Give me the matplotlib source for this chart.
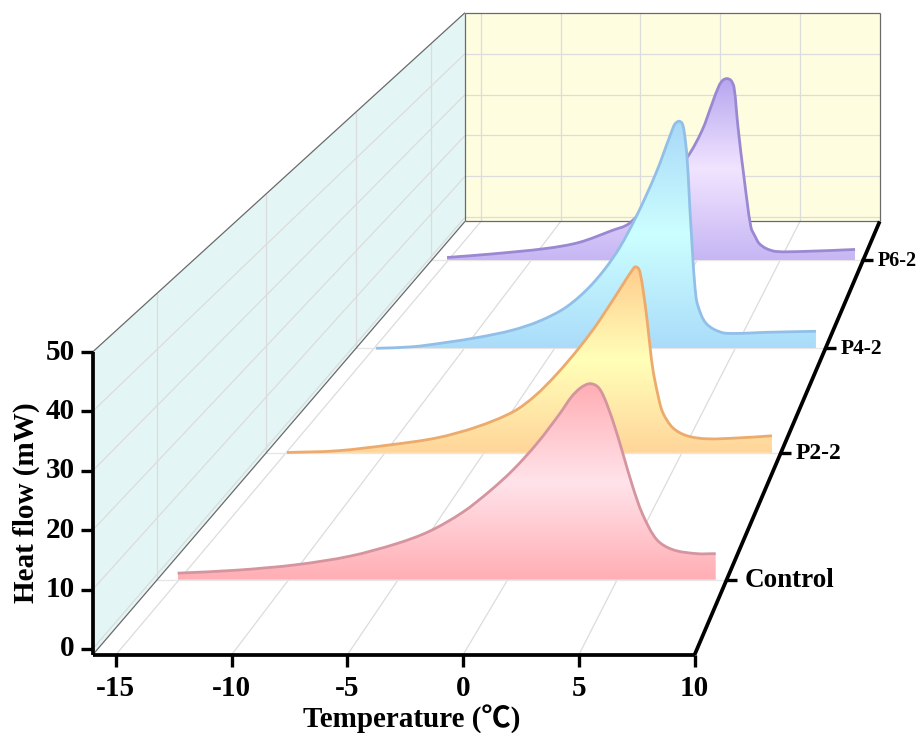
import numpy as np
import matplotlib
matplotlib.use("Agg")
import matplotlib.pyplot as plt
from matplotlib.path import Path
from matplotlib.patches import PathPatch, Polygon
from matplotlib.colors import LinearSegmentedColormap

# ---- data -----------------------------------------------------------
series_names = ["Control", "P2-2", "P4-2", "P6-2"]
series_depth = [0.946, 0.855, 0.780, 0.717]

control_t = [-15.07, -12.37, -9.63, -7.21, -5.07, -3.56, -2.05, -0.82, 0.23, 1.33, 2.38, 2.92, 3.34, 3.75, 4.11, 4.39, 4.8, 5.25, 5.71, 6.17, 6.81, 7.54, 8.63, 9.5]
control_h = [0.16, 0.69, 1.67, 3.18, 5.41, 7.63, 11.01, 14.75, 18.48, 23.2, 28.54, 31.56, 33.16, 33.88, 33.34, 31.56, 27.3, 21.6, 15.55, 10.57, 6.12, 4.34, 3.63, 3.63]

p22_t = [-14.95, -12.42, -9.74, -7.37, -5.35, -3.53, -2.42, -1.31, -0.15, 0.86, 2.23, 2.43, 2.63, 2.78, 2.88, 3.04, 3.24, 3.39, 3.54, 3.79, 4.04, 4.55, 5.26, 6.27, 7.93, 9.55]
p22_h = [-0.94, -0.6, 0.57, 1.95, 4.12, 7.07, 10.22, 14.55, 19.87, 25.18, 33.45, 34.6, 35.6, 35.4, 34.6, 31.1, 25.2, 19.9, 15.3, 10.4, 6.9, 3.9, 2.35, 1.76, 1.95, 2.35]

p42_t = [-14.89, -12.9, -11.13, -9.19, -7.36, -5.87, -4.37, -2.93, -1.6, -0.5, 0.61, 1.44, 1.66, 1.88, 2.05, 2.16, 2.33, 2.55, 2.83, 3.1, 3.38, 3.82, 4.49, 6.87, 9.47]
p42_h = [-1.0, -0.68, 0.19, 1.38, 2.89, 4.83, 7.86, 12.82, 19.5, 27.3, 36.8, 45.4, 47.4, 48.0, 47.6, 46.1, 40.25, 25.1, 10.0, 6.34, 4.4, 3.1, 2.24, 2.46, 2.67]

p62_t = [-15.06, -12.35, -9.09, -7.11, -5.12, -4.09, -2.29, -0.6, 0.3, 0.91, 1.33, 1.57, 1.81, 2.05, 2.23, 2.47, 2.83, 3.25, 3.5, 3.74, 4.16, 4.76, 6.33, 9.52]
p62_h = [-0.3, 0.53, 1.82, 3.23, 6.04, 7.69, 15.2, 23.18, 29.5, 35.85, 40.08, 41.37, 41.7, 41.25, 39.6, 30.2, 18.5, 6.75, 4.63, 3.0, 1.82, 1.11, 1.11, 1.58]

series_t = [control_t, p22_t, p42_t, p62_t]
series_h = [control_h, p22_h, p42_h, p62_h]

t_ticks = [-15, -10, -5, 0, 5, 10]
h_ticks = [0, 10, 20, 30, 40, 50]

# ---- styles ---------------------------------------------------------
line_colors = ["#d4959e", "#ecab6c", "#92bfe8", "#9b88d2"]
grad_colors = [["#ffaeb4", "#ffe3ea", "#ffaeb4"],
               ["#ffcd8e", "#ffffb8", "#ffd59a"],
               ["#a8d8f8", "#ccffff", "#aadcfa"],
               ["#b6a6f0", "#f1e4ff", "#c6b6f4"]]
label_sizes = [19.5, 17, 15.5, 14.5]
label_gaps = [18, 15, 15, 15]
SERIF = ["Liberation Serif", "Noto Sans CJK SC", "DejaVu Sans"]
WALL_L, WALL_B = "#e3f6f5", "#fffde0"
GRID, EDGE = "#dcdcdc", "#6a6a6a"

# ---- one-point perspective scale -------------------------------------
T_MIN, T_MAX, H_FLOOR, H_TOP = -16.0, 10.0, -1.0, 50.0
S_FRONT, S_BACK = 1.0, 0.689
VP = (1290.0, -739.0)


def project(t, depth, h):
    x0 = 463.0 + 23.15 * np.asarray(t, float)
    y0 = 649.0 - 5.94 * np.asarray(h, float)
    return VP[0] + (x0 - VP[0]) * depth, VP[1] + (y0 - VP[1]) * depth


def smooth_segments(pts):
    """Bezier control points for a smooth path through the read points."""
    pts = np.asarray(pts)
    seg = np.hypot(*np.diff(pts, axis=0).T)
    tan = np.zeros_like(pts)
    tan[1:-1] = (pts[2:] - pts[:-2]) / (seg[1:] + seg[:-1])[:, None]
    tan[0] = (pts[1] - pts[0]) / seg[0]
    tan[-1] = (pts[-1] - pts[-2]) / seg[-1]
    verts, codes = [pts[0]], [Path.MOVETO]
    for i in range(len(pts) - 1):
        verts += [pts[i] + tan[i] * seg[i] / 3, pts[i + 1] - tan[i + 1] * seg[i] / 3, pts[i + 1]]
        codes += [Path.CURVE4] * 3
    return verts, codes


fig = plt.figure(figsize=(9.17, 7.33), dpi=100, facecolor="white")
ax = fig.add_axes([0, 0, 1, 1])


def quad(t0, d0, h0, t1, d1, h1, **kw):
    x, y = project([t0, t1], [d0, d1], [h0, h1])
    ax.plot(x, y, solid_capstyle="butt", **kw)


# walls
corners_l = [project(T_MIN, S_FRONT, H_FLOOR), project(T_MIN, S_BACK, H_FLOOR),
             project(T_MIN, S_BACK, H_TOP), project(T_MIN, S_FRONT, H_TOP)]
corners_b = [project(T_MIN, S_BACK, H_FLOOR), project(T_MAX, S_BACK, H_FLOOR),
             project(T_MAX, S_BACK, H_TOP), project(T_MIN, S_BACK, H_TOP)]
ax.add_patch(Polygon(corners_l, closed=True, fc=WALL_L, ec="none", zorder=1))
ax.add_patch(Polygon(corners_b, closed=True, fc=WALL_B, ec="none", zorder=1))

# grid
gk = dict(color=GRID, lw=0.9, zorder=2)
for t in t_ticks[:-1]:
    quad(t, S_FRONT, H_FLOOR, t, S_BACK, H_FLOOR, **gk)
    quad(t, S_BACK, H_FLOOR, t, S_BACK, H_TOP, **gk)
for h in h_ticks[:-1]:
    quad(T_MIN, S_FRONT, h, T_MIN, S_BACK, h, **gk)
    quad(T_MIN, S_BACK, h, T_MAX, S_BACK, h, **gk)
for d in series_depth:
    quad(T_MIN, d, H_FLOOR, T_MAX, d, H_FLOOR, color="#e6e6e6", lw=0.9, zorder=2)
    quad(T_MIN, d, H_FLOOR, T_MIN, d, H_TOP, **gk)

# wall edges
ek = dict(color=EDGE, lw=0.9, zorder=3)
quad(T_MIN, S_FRONT, H_FLOOR, T_MIN, S_BACK, H_FLOOR, **ek)
quad(T_MIN, S_FRONT, H_TOP, T_MIN, S_BACK, H_TOP, **ek)
quad(T_MIN, S_BACK, H_FLOOR, T_MIN, S_BACK, H_TOP, **ek)
quad(T_MIN, S_BACK, H_FLOOR, T_MAX, S_BACK, H_FLOOR, **ek)
quad(T_MIN, S_BACK, H_TOP, T_MAX, S_BACK, H_TOP, **ek)
quad(T_MAX, S_BACK, H_FLOOR, T_MAX, S_BACK, H_TOP, **ek)

# curves, back to front
for i in reversed(range(len(series_names))):
    z = 10 + (len(series_names) - i) * 3
    d = series_depth[i]
    x, y = project(series_t[i], d, series_h[i])
    xb, yb = project(series_t[i], d, np.full(len(series_t[i]), H_FLOOR))
    verts, codes = smooth_segments(np.column_stack([x, y]))
    fill_verts = verts + [(x[-1], yb[-1]), (x[0], yb[0]), verts[0]]
    fill_codes = codes + [Path.LINETO, Path.LINETO, Path.CLOSEPOLY]
    clip = PathPatch(Path(fill_verts, fill_codes), fc="none", ec="none", zorder=z)
    ax.add_patch(clip)
    cmap = LinearSegmentedColormap.from_list(series_names[i], grad_colors[i])
    img = ax.imshow(np.linspace(0, 1, 256)[:, None], cmap=cmap, aspect="auto",
                    extent=(x.min(), x.max(), yb[0], y.min()), origin="upper",
                    interpolation="bilinear", zorder=z)
    img.set_clip_path(clip)
    ax.add_patch(PathPatch(Path(verts, codes), fc="none", ec=line_colors[i], lw=2.0,
                           capstyle="butt", zorder=z + 1))

# axes
ak = dict(color="black", lw=2.7, zorder=40)
quad(T_MIN, S_FRONT, H_FLOOR, T_MAX, S_FRONT, H_FLOOR, **ak)
quad(T_MIN, S_FRONT, H_FLOOR, T_MIN, S_FRONT, H_TOP, **ak)
quad(T_MAX, S_FRONT, H_FLOOR, T_MAX, S_BACK, H_FLOOR, **ak)

# ticks and labels
tk = dict(color="black", lw=2.4, solid_capstyle="butt", zorder=40)
txt = dict(family=SERIF, weight="bold", color="black")
for t in t_ticks:
    x, y = project(t, S_FRONT, H_FLOOR)
    ax.plot([x, x], [y, y + 12], **tk)
    ax.text(x, y + 34, str(t), ha="center", va="center", fontsize=21, **txt)
for h in h_ticks:
    x, y = project(T_MIN, S_FRONT, h)
    ax.plot([x - 12, x], [y, y], **tk)
    ax.text(x - 18, y, str(h), ha="right", va="center", fontsize=21, **txt)
for name, d, fs, gap in zip(series_names, series_depth, label_sizes, label_gaps):
    x, y = project(T_MAX, d, H_FLOOR)
    ax.plot([x - 2, x + 10], [y, y], **tk)
    ax.text(x + gap, y + 1, name, ha="left", va="center", fontsize=fs, **txt)

ax.text(412, 719, "Temperature (℃)", ha="center", va="center", fontsize=21, **txt)
ax.text(26, 503, "Heat flow (mW)", ha="center", va="center", rotation=90, fontsize=21, **txt)

ax.set_xlim(0, 917)
ax.set_ylim(733, 0)
ax.axis("off")
fig.savefig("out.png", dpi=100, facecolor="white")
